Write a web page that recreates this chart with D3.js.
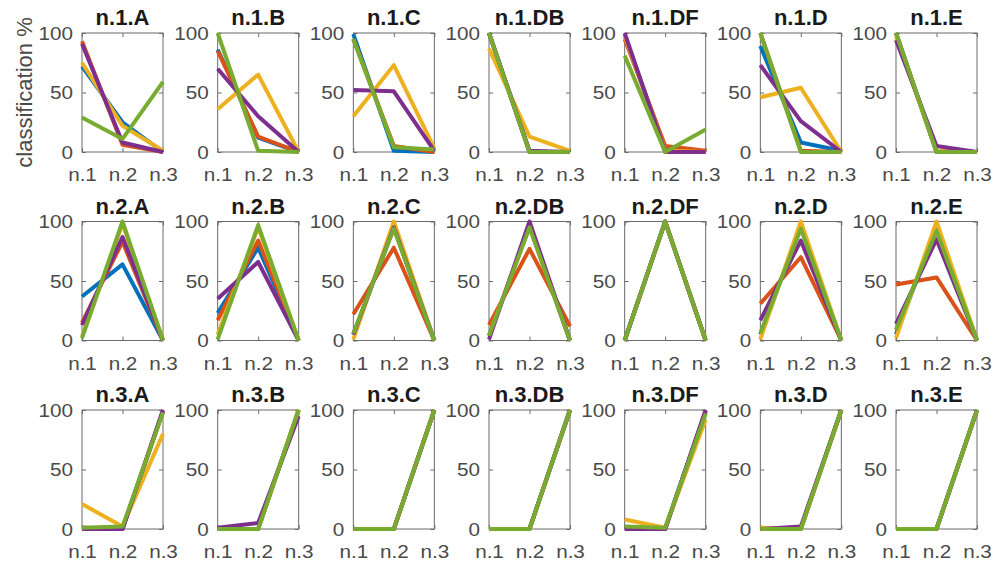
<!DOCTYPE html>
<html>
<head>
<meta charset="utf-8">
<script src="https://cdn.jsdelivr.net/npm/d3@7"></script>
<style>
  html, body { margin: 0; padding: 0; background: #fff; }
  svg { display: block; }
  text { font-family: "Liberation Sans", Arial, Helvetica, sans-serif; }
</style>
</head>
<body>
<svg id="chart" width="995" height="564"></svg>
<script>
// ---- data ----
const rowNames = ["n.1", "n.2", "n.3"];
const colNames = ["A", "B", "C", "DB", "DF", "D", "E"];
const xLabels = ["n.1", "n.2", "n.3"];
const yTicks = [0, 50, 100];
const seriesNames = ["s1", "s2", "s3", "s4", "s5"];
const seriesColors = ["#0072BD", "#D95319", "#EDB120", "#7E2F8E", "#77AC30"];
const yLabel = "classification %";

// each panel: 5 series (blue, red, yellow, purple, green) x 3 values (n.1, n.2, n.3)
const rowN1 = [
  [[72,25,0],[93,6,0],[75,22,1],[91,8,0],[29,11,59]],      // A
  [[86,12,0],[85,13,0],[36,65,0],[70,30,0],[100,1,0]],     // B
  [[99,1,0],[95,5,0],[30,73,3],[52,51,1],[95,4,2]],        // C
  [[100,0,0],[100,0,0],[87,13,1],[100,1,0],[100,0,0]],     // DB
  [[98,2,0],[95,5,1],[98,1,0],[100,0,0],[81,0,19]],        // DF
  [[89,8,1],[100,1,0],[46,54,0],[73,26,0],[100,0,0]],      // D
  [[100,0,0],[100,0,0],[97,1,0],[94,5,0],[100,0,0]]        // E
];
const rowN2 = [
  [[37,64,0],[15,83,0],[3,98,0],[13,87,0],[2,100,0]],      // A
  [[23,78,0],[17,84,0],[5,95,0],[35,66,0],[1,97,0]],       // B
  [[5,95,0],[22,78,0],[1,100,0],[5,95,0],[6,94,0]],        // C
  [[4,96,0],[13,77,12],[4,96,0],[1,100,0],[4,95,0]],       // DB
  [[0,100,0],[0,100,0],[0,100,0],[0,100,0],[0,100,0]],     // DF
  [[5,95,0],[31,70,0],[1,100,0],[17,84,0],[6,94,0]],       // D
  [[5,95,0],[47,53,0],[2,100,0],[14,85,0],[9,92,0]]        // E
];
const rowN3 = [
  [[1,0,99],[1,0,99],[21,2,80],[0,0,100],[1,2,98]],        // A
  [[0,0,100],[0,0,100],[0,0,100],[1,5,95],[0,0,100]],      // B
  [[0,0,100],[0,0,100],[0,0,100],[0,0,100],[0,0,100]],     // C
  [[0,0,100],[0,0,100],[0,0,100],[0,0,100],[0,0,100]],     // DB
  [[1,0,99],[1,0,99],[8,1,92],[0,0,100],[2,1,97]],         // DF
  [[0,0,100],[0,0,100],[1,0,100],[0,2,100],[0,0,100]],     // D
  [[0,0,100],[0,0,100],[0,0,100],[0,0,100],[0,0,100]]      // E
];
const allRows = [rowN1, rowN2, rowN3];

// ---- layout ----
const svg = d3.select("#chart");
const panelW = 81, panelH = 119;
const colScale = d3.scalePoint().domain(colNames).range([82, 896]);
const rowScale = d3.scalePoint().domain(rowNames).range([33, 410]);
const axisColor = "#6b6b6b";
const textColor = "#4a4a4a";
const stretch = 1.15;

rowNames.forEach((rn, ri) => {
  colNames.forEach((cn, ci) => {
    const x0 = colScale(cn), y0 = rowScale(rn);
    const g = svg.append("g").attr("transform", `translate(${x0},${y0})`);
    const x = d3.scalePoint().domain(xLabels).range([0, panelW]);
    const y = d3.scaleLinear().domain([0, 100]).range([panelH, 0]);

    // box
    g.append("rect").attr("x", 0).attr("y", 0).attr("width", panelW).attr("height", panelH)
      .attr("fill", "none").attr("stroke", axisColor).attr("stroke-width", 1);

    // axes (inward ticks on all sides)
    const fs = "18px";
    const xb = g.append("g").attr("transform", `translate(0,${panelH})`)
      .call(d3.axisBottom(x).tickSizeInner(-4).tickSizeOuter(0));
    const xt = g.append("g")
      .call(d3.axisTop(x).tickSizeInner(-4).tickSizeOuter(0).tickFormat(""));
    const yl = g.append("g")
      .call(d3.axisLeft(y).tickValues(yTicks).tickSizeInner(-4).tickSizeOuter(0));
    const yr = g.append("g").attr("transform", `translate(${panelW},0)`)
      .call(d3.axisRight(y).tickValues(yTicks).tickSizeInner(-4).tickSizeOuter(0).tickFormat(""));
    [xb, xt, yl, yr].forEach(a => {
      a.select(".domain").remove();
      a.selectAll(".tick line").attr("stroke", axisColor);
      a.selectAll("text").attr("fill", textColor).style("font-size", fs)
        .style("font-family", '"Liberation Sans", Arial, sans-serif');
    });
    xb.selectAll("text")
      .attr("y", 0).attr("dy", null)
      .attr("transform", `translate(0,29) scale(${stretch},1)`);
    yl.selectAll("text")
      .attr("x", 0).attr("dy", "0.36em")
      .attr("transform", `translate(-9,0) scale(${stretch},1)`);

    // title
    g.append("text").attr("x", panelW / 2).attr("y", -8)
      .attr("text-anchor", "middle").attr("fill", "#1a1a1a")
      .style("font-size", "22px").style("font-weight", "bold")
      .text(`${rn}.${cn}`);

    // lines
    const line = d3.line().x((d, i) => x(xLabels[i])).y(d => y(d));
    const panel = allRows[ri][ci];
    panel.forEach((vals, si) => {
      g.append("path").datum(vals)
        .attr("d", line)
        .attr("fill", "none")
        .attr("stroke", seriesColors[si])
        .attr("stroke-width", 4)
        .attr("stroke-linejoin", "round")
        .attr("stroke-linecap", "butt");
    });
  });
});

// y label
svg.append("text")
  .attr("transform", `translate(32, ${33 + panelH / 2}) rotate(-90)`)
  .attr("text-anchor", "middle")
  .attr("fill", textColor)
  .style("font-size", "22px")
  .text(yLabel);
</script>
</body>
</html>
